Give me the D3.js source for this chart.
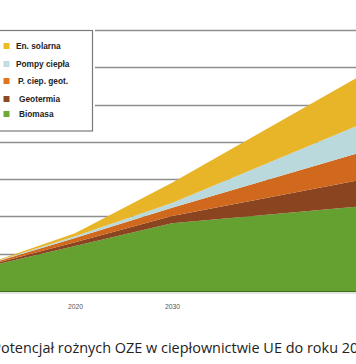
<!DOCTYPE html>
<html><head><meta charset="utf-8">
<script src="https://cdn.jsdelivr.net/npm/d3@7"></script>
<style>html,body{margin:0;padding:0;background:#fff;overflow:hidden}</style>
</head><body>
<svg id="c" width="356" height="364"></svg>
<script>
// ---- data ----
const years = [2010, 2020, 2030, 2050];
const biomasa    = [6.0, 12.1, 18.2, 22.8];
const geotermia  = [0.2, 1.0, 1.9, 7.3];
const pCiepGeot  = [0.2, 1.1, 2.2, 7.5];
const pompyCiepla= [0.05, 0.5, 1.3, 7.7];
const enSolarna  = [0.05, 0.8, 5.4, 13.3];
const seriesNames = ["Biomasa", "Geotermia", "P. ciep. geot.", "Pompy ciepła", "En. solarna"];
const legendOrder = ["En. solarna", "Pompy ciepła", "P. ciep. geot.", "Geotermia", "Biomasa"];
const xTickLabels = ["2020", "2030"];
const gridValues = [10, 20, 30, 40, 50, 60, 70];
const titleText = "Potencjał rożnych OZE w ciepłownictwie UE do roku 2050";

const colors = {
  "Biomasa": "#65A131",
  "Geotermia": "#8A4520",
  "P. ciep. geot.": "#D0691D",
  "Pompy ciepła": "#B9D9DC",
  "En. solarna": "#E8B428"
};
const legendColors = {
  "Biomasa": "#6DAA35",
  "Geotermia": "#8E4A22",
  "P. ciep. geot.": "#E1741F",
  "Pompy ciepła": "#BFDDE2",
  "En. solarna": "#EFBB25"
};

const table = years.map((y, i) => ({
  year: y,
  "Biomasa": biomasa[i],
  "Geotermia": geotermia[i],
  "P. ciep. geot.": pCiepGeot[i],
  "Pompy ciepła": pompyCiepla[i],
  "En. solarna": enSolarna[i]
}));

const svg = d3.select("#c");
const x = d3.scaleLinear().domain([2020, 2030]).range([75, 172]);
const y = d3.scaleLinear().domain([0, 70]).range([291, 30]);

// gridlines
svg.append("g").selectAll("line").data(gridValues).join("line")
  .attr("x1", 0).attr("x2", 356)
  .attr("y1", d => Math.round(y(d)) + 0.5).attr("y2", d => Math.round(y(d)) + 0.5)
  .attr("stroke", "#8e8e8e").attr("stroke-width", 1.3);

// stacked areas
const stack = d3.stack().keys(seriesNames);
const layers = stack(table);
const area = d3.area()
  .x(d => x(d.data.year))
  .y0(d => y(d[0]))
  .y1(d => y(d[1]));
svg.append("g").selectAll("path").data(layers).join("path")
  .attr("d", area)
  .attr("fill", d => colors[d.key]);

// baseline
svg.append("line").attr("x1", 0).attr("x2", 356)
  .attr("y1", y(0) + 0.5).attr("y2", y(0) + 0.5)
  .attr("stroke", "#3f6f1c").attr("stroke-width", 1.2);
svg.append("line").attr("x1", 0).attr("x2", 356)
  .attr("y1", y(0) + 2).attr("y2", y(0) + 2)
  .attr("stroke", "#c8c8c8").attr("stroke-width", 1);

// x axis labels
const xAxis = d3.axisBottom(x).tickValues(xTickLabels.map(Number)).tickFormat(d3.format("d")).tickSize(0);
const gx = svg.append("g").attr("transform", `translate(0,${y(0) + 10})`).call(xAxis);
gx.select(".domain").remove();
gx.selectAll("text").attr("font-family", "Liberation Sans, Arial, sans-serif")
  .attr("font-size", 6.8).attr("fill", "#555").attr("dy", "0.71em");

// legend
svg.append("rect").attr("x", -10).attr("y", 28).attr("width", 105).attr("height", 105).attr("fill", "#fff");
svg.append("rect").attr("x", -2).attr("y", 30.5).attr("width", 94.5).attr("height", 100.5)
  .attr("fill", "#fff").attr("stroke", "#7a7a7a").attr("stroke-width", 1.2);
const rowY = [46, 64, 81, 99, 114];
const textX = [16, 16, 18, 19, 19];
const lg = svg.append("g").selectAll("g").data(legendOrder).join("g");
lg.append("rect").attr("x", 3.5).attr("y", (d, i) => rowY[i] - 3).attr("width", 6).attr("height", 6)
  .attr("fill", d => legendColors[d]);
lg.append("text").attr("x", (d, i) => textX[i]).attr("y", (d, i) => rowY[i] + 3)
  .attr("font-family", "Liberation Sans, Arial, sans-serif").attr("font-weight", "bold")
  .attr("font-size", 8.3).attr("fill", "#222").text(d => d);

// title
const fs = 15;
const tmp = svg.append("text").attr("font-family", "Open Sans, sans-serif").attr("font-size", fs);
function w(s) { tmp.text(s); return tmp.node().getComputedTextLength(); }
const wP = w("P");
const wTo2 = w("Potencjał rożnych OZE w ciepłownictwie UE do roku 2");
const wFull = w(titleText);
tmp.remove();
const k = (350 - 1) / (wTo2 - wP);
svg.append("text")
  .attr("x", 1 - k * wP).attr("y", 353)
  .attr("font-family", "Open Sans, sans-serif").attr("font-size", fs)
  .attr("fill", "#222")
  .attr("textLength", k * wFull).attr("lengthAdjust", "spacingAndGlyphs")
  .text(titleText);
</script>
</body></html>
